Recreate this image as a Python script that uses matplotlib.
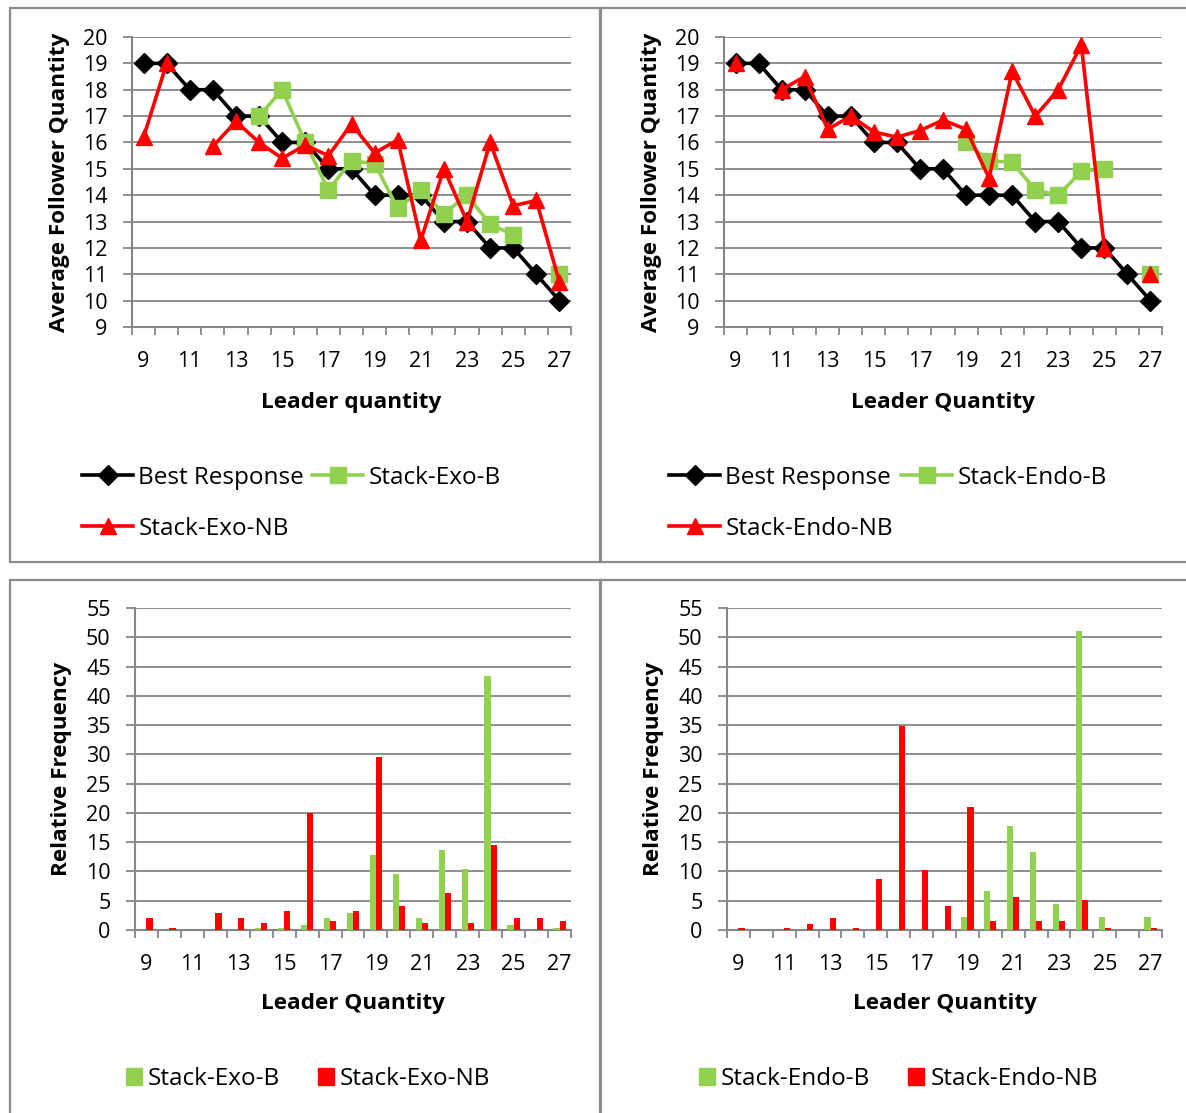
import numpy as np
import matplotlib.pyplot as plt
from matplotlib.patches import Rectangle, Patch

plt.rcParams['font.family'] = ['Open Sans', 'DejaVu Sans']

W, H = 1186, 1113
nan = np.nan

leader = list(range(9, 28))

# top charts: average follower quantity
best_response = [19, 19, 18, 18, 17, 17, 16, 16, 15, 15, 14, 14, 14, 13, 13, 12, 12, 11, 10]
exo_b = [nan, nan, nan, nan, nan, 17, 18, 16, 14.2, 15.3, 15.2, 13.5, 14.2, 13.3, 14, 12.9, 12.5, nan, 11]
exo_nb = [16.2, 19, nan, 15.85, 16.8, 16, 15.4, 15.9, 15.5, 16.7, 15.6, 16.1, 12.3, 15, 13, 16, 13.6, 13.8, 10.7]
endo_b = [nan, nan, nan, nan, nan, nan, nan, nan, nan, nan, 16, 15.3, 15.25, 14.2, 14, 14.9, 15, nan, 11]
endo_nb = [19, nan, 18, 18.5, 16.5, 17, 16.4, 16.2, 16.45, 16.85, 16.5, 14.65, 18.7, 17, 18, 19.7, 12, nan, 11]

# bottom charts: relative frequency
freq_exo_b = [0, 0, 0, 0, 0, 0.4, 0.4, 0.8, 2.0, 2.85, 12.8, 9.6, 2.0, 13.7, 10.4, 43.3, 0.8, 0, 0.4]
freq_exo_nb = [2.0, 0.4, 0, 2.85, 2.0, 1.2, 3.3, 20, 1.6, 3.3, 29.5, 4.15, 1.2, 6.3, 1.2, 14.5, 2.0, 2.0, 1.6]
freq_endo_b = [0, 0, 0, 0, 0, 0, 0, 0, 0, 0, 2.2, 6.6, 17.7, 13.3, 4.4, 51.0, 2.2, 0, 2.2]
freq_endo_nb = [0.4, 0, 0.4, 1.0, 2.0, 0.4, 8.7, 34.8, 10.2, 4.1, 21.0, 1.5, 5.6, 1.5, 1.5, 5.1, 0.4, 0, 0.4]

GREEN = '#92D050'
RED = '#FF0000'
GRID = '#868686'
TICK_FS = 15.5
LABEL_FS = 16.2
LEG_FS = 17.5


def px_box(x0, y0, x1, y1):
    return [x0 / W, 1 - y1 / H, (x1 - x0) / W, (y1 - y0) / H]


def style(ax, ymin, ymax, step):
    idx = np.arange(len(leader))
    ax.set_xlim(-0.5, len(leader) - 0.5)
    ax.set_ylim(ymin, ymax)
    ax.set_yticks(np.arange(ymin, ymax + 0.01, step))
    ax.yaxis.grid(True, color=GRID, lw=1.3)
    ax.set_axisbelow(True)
    for s in ['top', 'right']:
        ax.spines[s].set_visible(False)
    for s in ['left', 'bottom']:
        ax.spines[s].set_color(GRID)
        ax.spines[s].set_linewidth(1.5)
    ax.set_xticks(np.arange(-0.5, len(leader), 1))
    ax.set_xticklabels([])
    ax.set_xticks(idx[::2], minor=True)
    ax.set_xticklabels([str(v) for v in leader[::2]], minor=True)
    ax.tick_params(axis='x', which='major', length=6, width=1.3, color=GRID)
    ax.tick_params(axis='x', which='minor', length=0, pad=17, labelsize=TICK_FS)
    ax.tick_params(axis='y', length=6.5, width=1.3, color=GRID, pad=11, labelsize=TICK_FS)


fig = plt.figure(figsize=(W / 100, H / 100), dpi=100)

# panel frames
for (x0, y0, x1, y1) in [(10, 8, 600, 562), (601, 8, 1200, 562), (10, 580, 600, 1130), (601, 580, 1200, 1130)]:
    fig.patches.append(Rectangle((x0 / W, 1 - y1 / H), (x1 - x0) / W, (y1 - y0) / H,
                                 transform=fig.transFigure, fill=False, ec='#8c8c8c', lw=1.6))

x = np.arange(len(leader))


def line_panel(box, nb, b, nb_name, b_name, xlabel, ylab_x, leg_anchor):
    ax = fig.add_axes(px_box(*box))
    style(ax, 9, 20, 1)
    l1, = ax.plot(x, best_response, color='black', lw=2.6, marker='D', ms=10, label='Best Response', zorder=3)
    l2, = ax.plot(x, b, color=GREEN, lw=2.6, marker='s', ms=11, label=b_name, zorder=4)
    l3, = ax.plot(x, nb, color=RED, lw=2.6, marker='^', ms=12, label=nb_name, zorder=5)
    fig.text((box[0] + box[2]) / 2 / W, 1 - 402 / H, xlabel, ha='center', va='center',
             fontsize=LABEL_FS, fontweight='bold')
    fig.text(ylab_x / W, 1 - (box[1] + box[3]) / 2 / H, 'Average Follower Quantity', rotation=90,
             ha='center', va='center', fontsize=LABEL_FS, fontweight='bold')
    fig.legend([l1, l3, l2], ['Best Response', nb_name, b_name], ncol=2, frameon=False,
               loc='upper left', bbox_to_anchor=(leg_anchor[0] / W, 1 - leg_anchor[1] / H),
               fontsize=LEG_FS, handlelength=2.1, handletextpad=0.22, columnspacing=0.33,
               labelspacing=1.1, borderpad=0, borderaxespad=0)
    return ax


def bar_panel(box, b, nb, b_name, nb_name, ylab_x, leg_anchor):
    ax = fig.add_axes(px_box(*box))
    style(ax, 0, 55, 5)
    w = 0.27
    ax.bar(x - w / 2, b, width=w, color=GREEN, zorder=3)
    ax.bar(x + w / 2, nb, width=w, color=RED, zorder=3)
    fig.text((box[0] + box[2]) / 2 / W, 1 - 1004 / H, 'Leader Quantity', ha='center', va='center',
             fontsize=LABEL_FS, fontweight='bold')
    fig.text(ylab_x / W, 1 - (box[1] + box[3]) / 2 / H, 'Relative Frequency', rotation=90,
             ha='center', va='center', fontsize=LABEL_FS, fontweight='bold')
    handles = [Patch(color=GREEN), Patch(color=RED)]
    fig.legend(handles, [b_name, nb_name], ncol=2, frameon=False,
               loc='upper left', bbox_to_anchor=(leg_anchor[0] / W, 1 - leg_anchor[1] / H),
               fontsize=LEG_FS, handlelength=0.66, handleheight=0.66, handletextpad=0.25,
               columnspacing=1.55, borderpad=0, borderaxespad=0)
    return ax


line_panel((132, 37, 571, 327), exo_nb, exo_b, 'Stack-Exo-NB', 'Stack-Exo-B', 'Leader quantity', 60, (82, 466))
line_panel((724, 37, 1162, 327), endo_nb, endo_b, 'Stack-Endo-NB', 'Stack-Endo-B', 'Leader Quantity', 651, (669, 466))
bar_panel((135, 608, 571, 930), freq_exo_b, freq_exo_nb, 'Stack-Exo-B', 'Stack-Exo-NB', 62, (126, 1067))
bar_panel((727, 608, 1162, 930), freq_endo_b, freq_endo_nb, 'Stack-Endo-B', 'Stack-Endo-NB', 653, (699, 1067))

fig.savefig('out.png', dpi=100)
